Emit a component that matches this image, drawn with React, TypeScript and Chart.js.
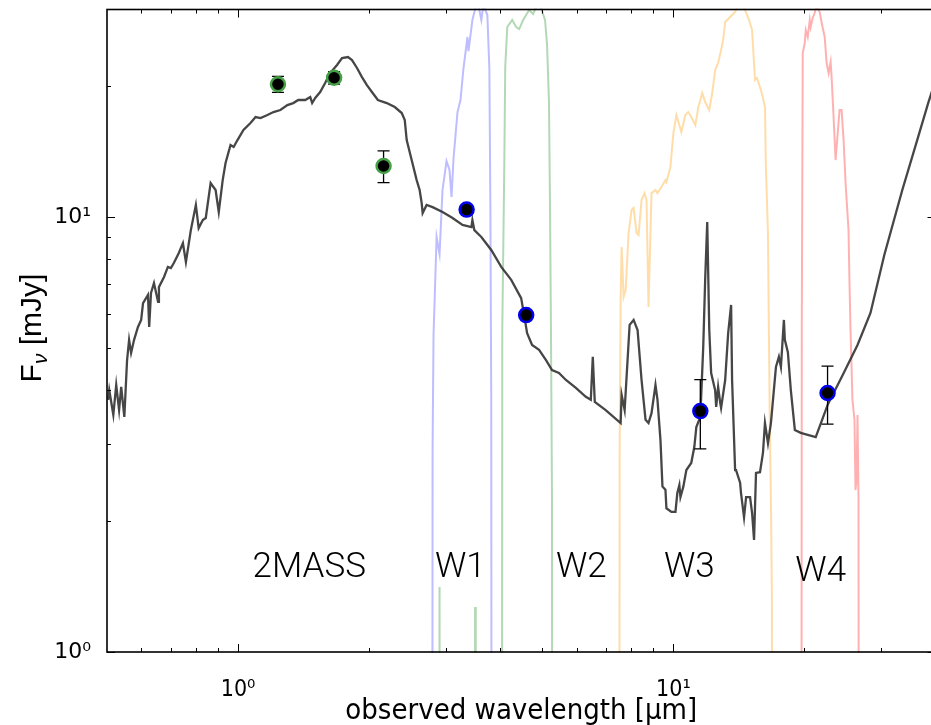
import React, { useEffect, useRef } from 'react';
import { Chart, registerables } from 'chart.js';

Chart.register(...registerables);

// ---- model SED (observed wavelength in micron, flux in mJy) ----
const modelWavelength = [
  0.503, 0.506, 0.517, 0.525, 0.533, 0.539, 0.548, 0.556, 0.562, 0.568,
  0.577, 0.589, 0.599, 0.605, 0.621, 0.625, 0.631, 0.641, 0.655, 0.658,
  0.676, 0.690, 0.701, 0.712, 0.731, 0.747, 0.759, 0.779, 0.800, 0.812,
  0.830, 0.843, 0.865, 0.888, 0.903, 0.922, 0.936, 0.961, 0.977, 0.997,
  1.029, 1.068, 1.097, 1.126, 1.168, 1.206, 1.251, 1.298, 1.339, 1.375,
  1.427, 1.465, 1.480, 1.504, 1.544, 1.585, 1.627, 1.688, 1.733, 1.789,
  1.827, 1.876, 1.926, 1.977, 2.030, 2.095, 2.196, 2.291, 2.377, 2.415,
  2.440, 2.505, 2.572, 2.613, 2.641, 2.655, 2.711, 2.798, 2.949, 3.110,
  3.278, 3.436, 3.454, 3.490, 3.621, 3.816, 4.023, 4.241, 4.470, 4.541,
  4.613, 4.736, 4.914, 5.098, 5.262, 5.459, 5.664, 5.970, 6.293, 6.461,
  6.529, 6.598, 6.990, 7.565, 7.605, 7.727, 7.933, 8.102, 8.274, 8.450,
  8.630, 8.767, 8.907, 9.096, 9.193, 9.339, 9.438, 9.588, 9.638, 9.895,
  10.11, 10.21, 10.32, 10.38, 10.54, 10.71, 10.99, 11.17, 11.29, 11.53,
  11.71, 11.83, 11.96, 12.09, 12.21, 12.47, 12.54, 12.67, 12.81, 12.87,
  13.15, 13.36, 13.57, 13.64, 13.86, 13.93, 14.23, 14.30, 14.53, 14.69,
  15.00, 15.16, 15.32, 15.48, 15.81, 16.06, 16.23, 16.49, 16.75, 17.20,
  17.47, 17.66, 17.94, 18.03, 18.32, 18.61, 19.01, 19.61, 21.23, 22.61,
  24.47, 26.48, 28.36, 30.51, 33.56, 36.31, 38.48, 41.42,
];
const modelFlux = [
  3.80, 4.00, 3.51, 4.11, 3.60, 4.07, 3.47, 4.69, 5.22, 4.87,
  5.22, 5.59, 5.80, 6.34, 6.62, 5.59, 6.69, 7.05, 6.38, 6.90,
  7.28, 7.68, 7.63, 7.84, 8.27, 8.71, 7.88, 9.33, 10.66, 9.43,
  9.84, 9.95, 11.97, 11.54, 10.27, 12.16, 13.31, 14.64, 14.49, 15.03,
  15.85, 16.45, 16.98, 16.89, 17.16, 17.43, 17.62, 18.09, 18.28, 18.58,
  18.58, 18.87, 18.28, 18.78, 19.38, 20.33, 21.43, 22.36, 23.20, 23.32,
  22.96, 22.01, 20.98, 20.11, 19.38, 18.58, 18.28, 17.90, 17.34, 16.71,
  15.03, 13.52, 12.16, 11.54, 10.77, 10.21, 10.66, 10.54, 10.27, 9.95,
  9.59, 9.48, 9.84, 9.33, 9.00, 8.40, 7.68, 7.17, 6.51, 5.95,
  5.41, 5.08, 4.95, 4.69, 4.45, 4.38, 4.22, 4.05, 3.86, 3.80,
  4.77, 3.76, 3.60, 3.36, 3.90, 3.60, 5.65, 5.80, 5.50, 4.22,
  3.42, 3.36, 3.54, 4.11, 3.80, 3.07, 2.40, 2.36, 2.14, 2.10,
  2.10, 2.32, 2.42, 2.27, 2.40, 2.62, 2.72, 2.96, 3.29, 3.47,
  5.03, 7.17, 9.74, 5.50, 4.38, 4.00, 3.66, 4.07, 3.74, 3.64,
  4.22, 5.41, 6.28, 4.22, 2.62, 2.62, 2.45, 2.32, 2.04, 2.27,
  2.27, 2.09, 1.81, 2.58, 2.59, 2.87, 3.36, 3.02, 3.36, 4.52,
  4.77, 4.52, 5.80, 5.22, 4.89, 4.00, 3.24, 3.19, 3.12, 3.70,
  4.33, 5.08, 6.02, 8.18, 11.54, 15.03, 18.28, 22.96,
];

// ---- WISE filter transmission curves (scaled into flux units) ----
const w1Wavelength = [2.783, 2.798, 2.812, 2.858, 2.903, 2.949, 3.012, 3.060, 3.093, 3.125, 3.192, 3.243, 3.295, 3.365, 3.383, 3.454, 3.546, 3.621, 3.660, 3.738, 3.778, 3.798, 3.816, 3.837];
const w1Curve = [0.001, 2.913, 5.355, 8.996, 8.221, 11.54, 13.45, 12.83, 11.12, 13.60, 17.43, 18.58, 22.01, 25.94, 24.07, 28.38, 31.54, 28.38, 30.72, 29.13, 22.01, 10.77, 3.80, 0.001];

const w2Wavelength = [2.887, 2.903, 2.918, 3.490, 3.503, 3.516, 4.023, 4.045, 4.088, 4.109, 4.153, 4.263, 4.353, 4.423, 4.517, 4.589, 4.662, 4.762, 4.863, 4.966, 5.071, 5.125, 5.179, 5.206, 5.234, 5.262, 5.290];
const w2Curve = [0.001, 1.411, 0.001, 0.001, 1.269, 0.001, 0.001, 5.499, 13.03, 22.12, 27.34, 28.38, 27.34, 27.05, 28.38, 29.13, 29.91, 29.29, 30.72, 30.23, 28.38, 24.99, 18.38, 10.77, 5.355, 2.236, 0.001];

const w3Wavelength = [7.486, 7.525, 7.565, 7.605, 7.686, 7.768, 7.891, 8.017, 8.102, 8.231, 8.318, 8.450, 8.584, 8.675, 8.767, 8.907, 9.096, 9.193, 9.388, 9.588, 9.638, 9.843, 10.00, 10.16, 10.43, 10.65, 10.82, 10.99, 11.23, 11.41, 11.65, 11.83, 12.09, 12.28, 12.47, 12.67, 12.87, 13.01, 13.15, 13.43, 13.64, 13.86, 14.08, 14.38, 14.61, 14.92, 15.16, 15.40, 15.56, 15.89, 16.06, 16.23, 16.31, 16.49, 16.57, 16.66, 16.75, 16.84, 16.93];
const w3Curve = [0.001, 2.913, 6.446, 8.531, 6.548, 6.795, 9.188, 10.38, 10.49, 9.188, 9.092, 10.94, 11.35, 10.94, 6.210, 11.35, 11.54, 11.35, 11.72, 12.16, 12.04, 13.03, 15.60, 17.16, 15.68, 17.16, 17.43, 16.98, 16.27, 17.90, 19.28, 18.38, 17.62, 19.28, 21.77, 22.60, 24.20, 25.52, 28.07, 28.68, 29.13, 29.60, 30.72, 31.21, 29.91, 28.38, 26.91, 20.65, 20.87, 19.58, 18.78, 17.90, 13.03, 9.188, 5.499, 3.238, 2.236, 1.317, 0.001];

const w4Wavelength = [19.61, 19.72, 19.82, 20.03, 20.14, 20.35, 20.57, 20.67, 20.89, 21.11, 21.34, 21.68, 21.91, 22.26, 22.49, 22.73, 22.97, 23.09, 23.33, 23.58, 23.71, 24.08, 24.34, 24.60, 24.86, 25.25, 25.38, 25.52, 25.78, 26.06, 26.20, 26.34, 26.48, 26.62, 26.76];
const w4Curve = [0.001, 5.499, 23.83, 25.12, 26.91, 25.94, 28.38, 27.34, 28.68, 29.44, 30.72, 29.60, 27.92, 25.94, 22.60, 21.43, 22.72, 20.98, 16.98, 13.52, 14.49, 17.62, 17.62, 15.03, 11.97, 9.334, 7.05, 5.499, 3.80, 3.415, 2.357, 2.485, 3.506, 2.236, 0.001];

// ---- photometry ----
const twoMassWavelength = [1.235, 1.662, 2.159];
const twoMassFlux = [20.2, 20.9, 13.1];
const twoMassError = [0.85, 0.7, 1.1];

const wiseWavelength = [3.35, 4.59, 11.53, 22.6];
const wiseFlux = [10.4, 5.95, 3.58, 3.94];
const wiseError = [0.2, 0.12, 0.65, 0.6];

// ---- band annotations ----
const bandNames = ['2MASS', 'W1', 'W2', 'W3', 'W4'];
const bandLabelX = [1.457, 3.24, 6.145, 10.88, 21.79];
const bandLabelY = [1.485, 1.485, 1.485, 1.485, 1.46];

// ---- axes ----
const xMin = 0.5;
const xMax = 40;
const yMin = 1;
const yMax = 30;
const xTickValues = [1, 10];
const xTickLabels = ['10\u2070', '10\u00B9'];
const yTickValues = [1, 10];
const yTickLabels = ['10\u2070', '10\u00B9'];
const xMinorTicks = [0.6, 0.7, 0.8, 0.9, 2, 3, 4, 5, 6, 7, 8, 9, 20, 30];
const yMinorTicks = [2, 3, 4, 5, 6, 7, 8, 9, 20];

const CANVAS_W = 945;
const CANVAS_H = 725;

function pairs(xs: number[], ys: number[]) {
  return xs.map((x, i) => ({ x, y: ys[i] }));
}

export default function App() {
  const ref = useRef<HTMLCanvasElement>(null);

  useEffect(() => {
    const canvas = ref.current;
    if (!canvas) return;

    const decor = {
      id: 'sedDecor',
      beforeDatasetDraw(chart: any, args: any) {
        if (args.index !== 1) return;
        const { ctx } = chart;
        const x = chart.scales.x;
        const y = chart.scales.y;
        ctx.save();
        ctx.strokeStyle = '#000';
        ctx.lineWidth = 1.3;
        const draw = (xs: number[], ys: number[], es: number[]) => {
          xs.forEach((xv, i) => {
            const px = x.getPixelForValue(xv);
            const top = y.getPixelForValue(ys[i] + es[i]);
            const bot = y.getPixelForValue(ys[i] - es[i]);
            ctx.beginPath();
            ctx.moveTo(px, top);
            ctx.lineTo(px, bot);
            ctx.moveTo(px - 6, top);
            ctx.lineTo(px + 6, top);
            ctx.moveTo(px - 6, bot);
            ctx.lineTo(px + 6, bot);
            ctx.stroke();
          });
        };
        draw(twoMassWavelength, twoMassFlux, twoMassError);
        draw(wiseWavelength, wiseFlux, wiseError);
        ctx.restore();
      },
      afterDatasetsDraw(chart: any) {
        const { ctx, chartArea: a } = chart;
        const x = chart.scales.x;
        const y = chart.scales.y;
        ctx.save();
        // band names
        ctx.font = '300 35px Roboto, "Liberation Sans", sans-serif';
        ctx.fillStyle = '#000';
        ctx.textAlign = 'center';
        ctx.textBaseline = 'alphabetic';
        bandNames.forEach((n, i) => {
          ctx.fillText(n, x.getPixelForValue(bandLabelX[i]), y.getPixelForValue(bandLabelY[i]));
        });
        // frame
        ctx.strokeStyle = '#000';
        ctx.lineWidth = 1.6;
        ctx.strokeRect(a.left, a.top, a.right - a.left, a.bottom - a.top);
        // ticks (inward, both sides)
        ctx.lineWidth = 1;
        const xt = (v: number, len: number) => {
          const px = Math.round(x.getPixelForValue(v)) + 0.5;
          ctx.beginPath();
          ctx.moveTo(px, a.bottom);
          ctx.lineTo(px, a.bottom - len);
          ctx.moveTo(px, a.top);
          ctx.lineTo(px, a.top + len);
          ctx.stroke();
        };
        const yt = (v: number, len: number) => {
          const py = Math.round(y.getPixelForValue(v)) + 0.5;
          ctx.beginPath();
          ctx.moveTo(a.left, py);
          ctx.lineTo(a.left + len, py);
          ctx.moveTo(a.right, py);
          ctx.lineTo(a.right - len, py);
          ctx.stroke();
        };
        xTickValues.forEach((v) => xt(v, 8));
        xMinorTicks.forEach((v) => xt(v, 4));
        yTickValues.forEach((v) => yt(v, 8));
        yMinorTicks.forEach((v) => yt(v, 4));
        ctx.restore();
      },
      afterDraw(chart: any) {
        const { ctx, chartArea: a } = chart;
        ctx.save();
        ctx.fillStyle = '#000';
        // x title
        ctx.font = '29px "DejaVu Sans Condensed", "DejaVu Sans", sans-serif';
        ctx.textAlign = 'center';
        ctx.textBaseline = 'alphabetic';
        ctx.fillText('observed wavelength [\u03BCm]', (a.left + a.right) / 2, 719);
        // y title with subscript nu
        const mainFont = '30px "Liberation Sans", Arial, sans-serif';
        const subFont = 'italic 21px "Liberation Sans", Arial, sans-serif';
        ctx.font = mainFont;
        const wF = ctx.measureText('F').width;
        const wRest = ctx.measureText(' [mJy]').width;
        ctx.font = subFont;
        const wNu = ctx.measureText('\u03BD').width;
        const total = wF + wNu + wRest;
        ctx.translate(41, 328);
        ctx.rotate(-Math.PI / 2);
        ctx.textAlign = 'left';
        let cx = -total / 2;
        ctx.font = mainFont;
        ctx.fillText('F', cx, 0);
        cx += wF;
        ctx.font = subFont;
        ctx.fillText('\u03BD', cx, 6);
        cx += wNu;
        ctx.font = mainFont;
        ctx.fillText(' [mJy]', cx, 0);
        ctx.restore();
      },
    };

    const lineDs = (label: string, xs: number[], ys: number[], color: string, width: number) => ({
      label,
      data: pairs(xs, ys),
      showLine: true,
      pointRadius: 0,
      borderColor: color,
      borderWidth: width,
      tension: 0,
      clip: 1,
    });

    const chart = new Chart(canvas, {
      type: 'scatter',
      data: {
        datasets: [
          {
            label: '2MASS',
            data: pairs(twoMassWavelength, twoMassFlux),
            pointRadius: 7,
            pointBackgroundColor: '#000',
            pointBorderColor: 'rgb(70,160,70)',
            pointBorderWidth: 2.5,
          },
          {
            label: 'WISE',
            data: pairs(wiseWavelength, wiseFlux),
            pointRadius: 7,
            pointBackgroundColor: '#000',
            pointBorderColor: '#0000ee',
            pointBorderWidth: 2.5,
          },
          lineDs('model', modelWavelength, modelFlux, 'rgba(50,50,50,0.9)', 2.3),
          lineDs('W1', w1Wavelength, w1Curve, 'rgba(90,90,255,0.4)', 2),
          lineDs('W2', w2Wavelength, w2Curve, 'rgba(40,140,40,0.35)', 2),
          lineDs('W3', w3Wavelength, w3Curve, 'rgba(255,170,40,0.4)', 2),
          lineDs('W4', w4Wavelength, w4Curve, 'rgba(255,60,60,0.4)', 2),
        ],
      } as any,
      options: {
        responsive: false,
        animation: false,
        devicePixelRatio: 1,
        events: [],
        layout: { padding: { left: 0, top: 9, right: CANVAS_W - 938, bottom: 0 } },
        plugins: { legend: { display: false }, tooltip: { enabled: false } },
        scales: {
          x: {
            type: 'logarithmic',
            position: 'bottom',
            min: xMin,
            max: xMax,
            grid: { display: false },
            border: { display: false },
            afterBuildTicks: (s: any) => {
              s.ticks = xTickValues.map((v) => ({ value: v }));
            },
            afterFit: (s: any) => {
              s.height = 73;
              s.paddingLeft = 0;
              s.paddingRight = 0;
            },
            ticks: {
              autoSkip: false,
              maxRotation: 0,
              padding: 16,
              color: '#000',
              font: { family: '"DejaVu Sans Condensed", "DejaVu Sans", sans-serif', size: 23 },
              callback: (v: any) => xTickLabels[xTickValues.indexOf(Number(v))] ?? '',
            },
          },
          y: {
            type: 'logarithmic',
            position: 'left',
            min: yMin,
            max: yMax,
            grid: { display: false },
            border: { display: false },
            afterBuildTicks: (s: any) => {
              s.ticks = yTickValues.map((v) => ({ value: v }));
            },
            afterFit: (s: any) => {
              s.width = 107;
              s.paddingTop = 0;
              s.paddingBottom = 0;
            },
            ticks: {
              autoSkip: false,
              padding: 8,
              color: '#000',
              font: { family: '"DejaVu Sans", sans-serif', size: 22 },
              callback: (v: any) => yTickLabels[yTickValues.indexOf(Number(v))] ?? '',
            },
          },
        },
      } as any,
      plugins: [decor],
    });

    return () => chart.destroy();
  }, []);

  return (
    <div
      style={{
        position: 'fixed',
        left: 0,
        top: 0,
        width: 931,
        height: 725,
        overflow: 'hidden',
        background: '#fff',
      }}
    >
      <canvas ref={ref} width={CANVAS_W} height={CANVAS_H} style={{ display: 'block' }} />
    </div>
  );
}
